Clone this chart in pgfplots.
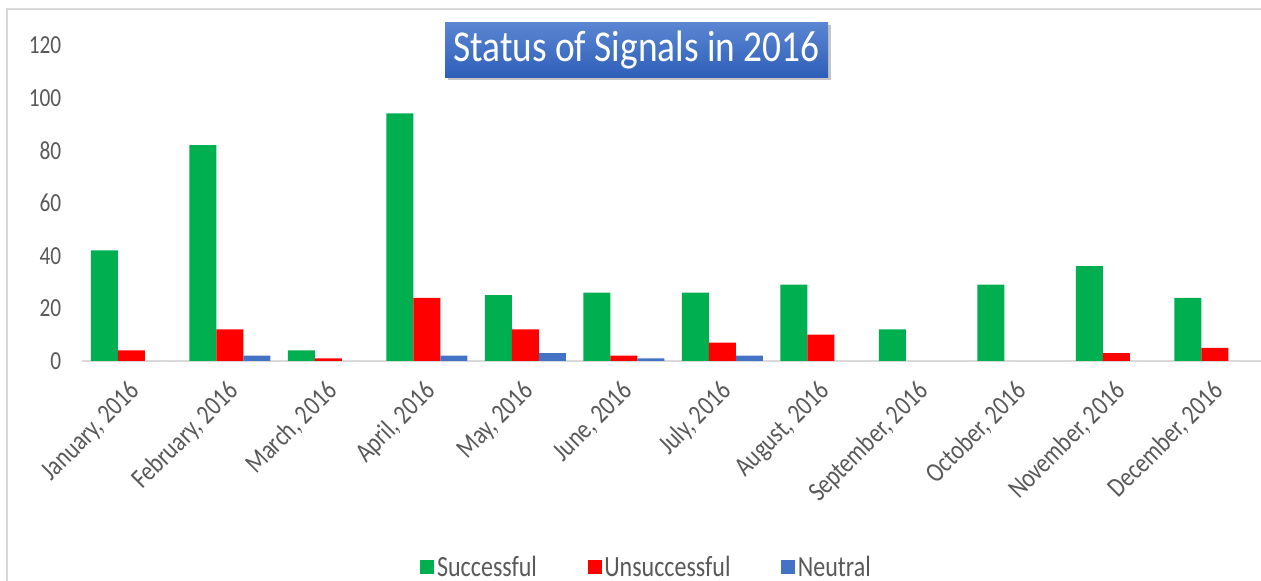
\documentclass[border=0pt]{standalone}
\usepackage{pgfplots}
\pgfplotsset{compat=1.18}
\usepackage{fontspec}
\setmainfont{Carlito}
\usetikzlibrary{shadows}
\definecolor{cgreen}{HTML}{00B050}
\definecolor{cred}{HTML}{FF0000}
\definecolor{cblue}{HTML}{4472C4}
\definecolor{ctext}{HTML}{595959}
\definecolor{cline}{HTML}{D9D9D9}
\definecolor{ttop}{HTML}{5B86D2}
\definecolor{tbot}{HTML}{2E5FB8}
\newcommand{\xl}[1]{\scalebox{1}[1.22]{#1}}
\pgfplotsset{lgsq/.style={legend image code/.code={\fill[##1] (0pt,-5.25pt) rectangle (10.5pt,5.25pt);}}}
\begin{document}
\begin{tikzpicture}
\useasboundingbox (0,0) rectangle (945.75pt,435.75pt);
\fill[white] (0,0) rectangle (945.75pt,435.75pt);
\draw[cline, line width=1pt] (5.25pt,429pt) rectangle (950pt,-10pt);
\begin{axis}[
  at={(61.5pt,165pt)}, anchor=south west,
  scale only axis, width=886.5pt, height=237pt,
  ybar=0pt, bar width=20.25pt,
  xmin=-0.5, xmax=11.5, ymin=0, ymax=120,
  xtick={0,...,11},
  xticklabels={\xl{January, 2016},\xl{February, 2016},\xl{March, 2016},\xl{April, 2016},\xl{May, 2016},\xl{June, 2016},\xl{July, 2016},\xl{August, 2016},\xl{September, 2016},\xl{October, 2016},\xl{November, 2016},\xl{December, 2016}},
  ytick={0,20,...,120},
  yticklabels={\xl{0},\xl{20},\xl{40},\xl{60},\xl{80},\xl{100},\xl{120}},
  major tick length=0pt,
  axis x line*=bottom,
  axis y line*=left,
  x axis line style={cline, line width=1.5pt, -},
  y axis line style={draw=none, -},
  y tick label style={font=\fontsize{16}{18}\selectfont, color=ctext, anchor=east, xshift=-12pt},
  x tick label style={font=\fontsize{17}{19}\selectfont, color=ctext, rotate=45, anchor=north east, xshift=-7.8pt, yshift=-4.2pt},
  legend columns=3,
  legend style={at={(0.478,-0.652)}, anchor=center, draw=none, fill=none,
    font=\fontsize{18}{20}\selectfont, text=ctext,
    /tikz/every even column/.append style={column sep=36pt}},
  legend cell align=left,
  clip=false,
]
\addplot[fill=cgreen, draw=none, lgsq] coordinates {(0,42) (1,82) (2,4) (3,94) (4,25) (5,26) (6,26) (7,29) (8,12) (9,29) (10,36) (11,24)};
\addplot[fill=cred, draw=none, lgsq] coordinates {(0,4) (1,12) (2,1) (3,24) (4,12) (5,2) (6,7) (7,10) (10,3) (11,5)};
\addplot[fill=cblue, draw=none, lgsq] coordinates {(1,2) (3,2) (4,3) (5,1) (6,2)};
\legend{\xl{Successful}, \xl{Unsuccessful}, \xl{Neutral}}
\end{axis}
\node[top color=ttop, bottom color=tbot, minimum width=287.25pt, minimum height=41.25pt, inner sep=0pt,
  drop shadow={shadow xshift=2pt, shadow yshift=-2.5pt, opacity=0.45}, text=white,
  font=\fontsize{28}{30}\selectfont] at (477.4pt,398.6pt) {\scalebox{1}[1.18]{Status of Signals in 2016}};
\end{tikzpicture}
\end{document}
